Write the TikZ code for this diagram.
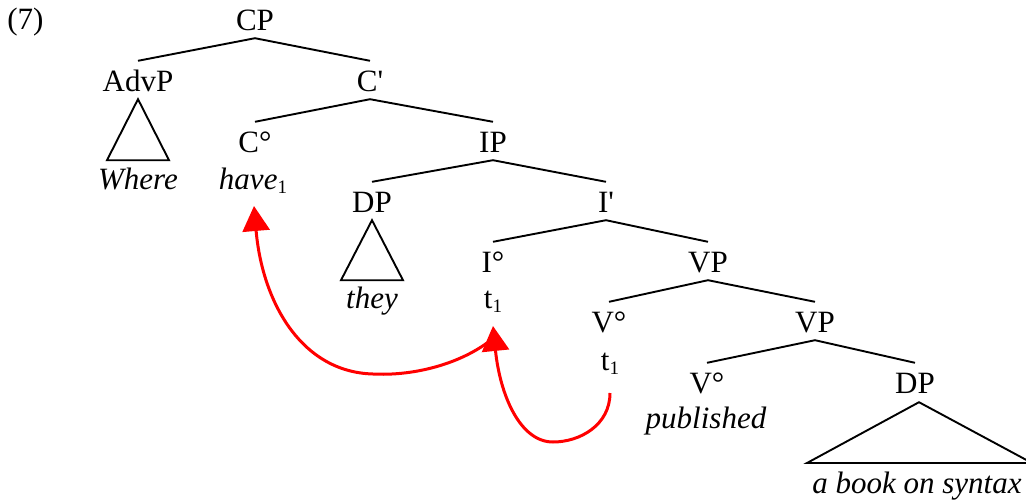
\documentclass[tikz,border=0pt]{standalone}
\usepackage{fontspec}
\setmainfont{Liberation Serif}
\usetikzlibrary{arrows.meta,calc}
\newcommand\subidx[1]{\raisebox{-4pt}{\fontsize{19}{19}\selectfont\upshape #1}}
\begin{document}
\begin{tikzpicture}[x=1pt,y=-1pt,
  cat/.style={font=\fontsize{31}{36}\selectfont, anchor=base, inner xsep=0pt, inner ysep=8pt, text height=22pt, text depth=0pt},
  word/.style={cat, font=\fontsize{31}{36}\selectfont\itshape},
  branch/.style={line width=1.9pt},
  tri/.style={line width=1.9pt, line join=miter},
  movearrow/.style={red, line width=3pt, -{Triangle[length=25pt,width=27pt]}}
]
\useasboundingbox (0,0) rectangle (1026,501);

\node[cat] (ex) at (25.5,29) {(7)};

% categories
\node[cat] (CP)   at (255,30)  {CP};
\node[cat] (AdvP) at (138,91)  {AdvP};
\node[cat] (Cbar) at (370,91)  {C\textquotesingle};
\node[cat] (C0)   at (255,152) {C°};
\node[cat] (IP)   at (493,152) {IP};
\node[cat] (DP1)  at (372,212) {DP};
\node[cat] (Ibar) at (606,212) {I\textquotesingle};
\node[cat] (I0)   at (493,272) {I°};
\node[cat] (VP1)  at (708,272) {VP};
\node[cat] (V01)  at (609,332) {V°};
\node[cat] (VP2)  at (815,332) {VP};
\node[cat] (V02)  at (707,393) {V°};
\node[cat] (DP2)  at (915,393) {DP};

% words
\node[word] (where) at (138,189) {Where};
\node[word] (have)  at (253,189) {have\subidx{1}};
\node[word] (they)  at (372,308) {they};
\node[cat]  (tI)    at (493,308) {t\subidx{1}};
\node[cat]  (tV)    at (610,370) {t\subidx{1}};
\node[word] (publ)  at (706,428) {published};
\node[word] (book)  at (917,493) {a book on syntax};

% branches
\draw[branch] (AdvP.north) -- (CP.south) -- (Cbar.north);
\draw[branch] (C0.north) -- (Cbar.south) -- (IP.north);
\draw[branch] (DP1.north) -- (IP.south) -- (Ibar.north);
\draw[branch] (I0.north) -- (Ibar.south) -- (VP1.north);
\draw[branch] (V01.north) -- (VP1.south) -- (VP2.north);
\draw[branch] (V02.north) -- (VP2.south) -- (DP2.north);

% triangles
\draw[tri] (AdvP.south) -- ++(-31,61) -- ++(62,0) -- cycle;
\draw[tri] (DP1.south) -- ++(-31,60) -- ++(62,0) -- cycle;
\draw[tri] ($(DP2.south)+(4,1)$) -- (807,463) -- (1032,463) -- cycle;

% movement arrows
\coordinate (haveArr) at (254,206);
\coordinate (tIArr)   at (493,326);
\coordinate (tIStart) at (487,343);
\coordinate (tVStart) at (610,393);
\draw[movearrow] (tVStart) .. controls (610,425) and (580,442) .. (553,442)
  .. controls (520,442) and (500,395) .. (tIArr);
\draw[movearrow] (tIStart) .. controls (455,366) and (410,376) .. (373,374)
  .. controls (300,372) and (262,300) .. (haveArr);
\end{tikzpicture}
\end{document}
